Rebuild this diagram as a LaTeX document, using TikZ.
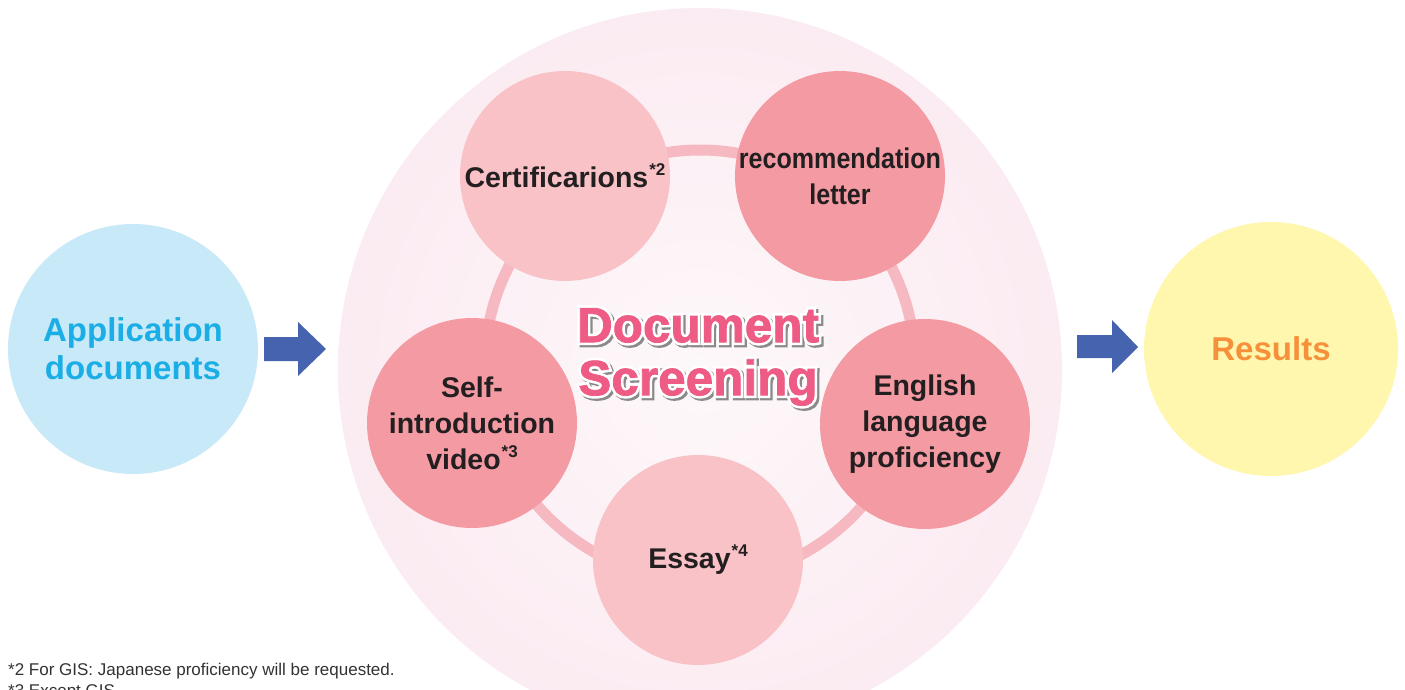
\documentclass[tikz,border=0pt]{standalone}
\usepackage{fontspec}
\usepackage{graphicx}
\setmainfont{Liberation Sans}
\newfontface\dsoutface{Liberation Sans Bold}[FakeBold=12]
\newfontface\dsface{Liberation Sans Bold}[FakeBold=1.5]
\definecolor{appfill}{HTML}{C8E9F8}
\definecolor{apptext}{HTML}{1BAEE6}
\definecolor{resfill}{HTML}{FFF7AE}
\definecolor{restext}{HTML}{F7903A}
\definecolor{arrowblue}{HTML}{4563AE}
\definecolor{dsin}{HTML}{FDF8FA}
\definecolor{dsmid}{HTML}{FCF0F5}
\definecolor{dsout}{HTML}{F9DDE8}
\definecolor{ringc}{HTML}{F6B8C1}
\definecolor{pinkL}{HTML}{F8C2C6}
\definecolor{pinkD}{HTML}{F39AA3}
\definecolor{labeltext}{HTML}{231F20}
\definecolor{dspink}{HTML}{EE5B84}
\definecolor{fxshadow}{HTML}{8A8A8A}
\definecolor{notetext}{HTML}{333333}
\pgfdeclareradialshading{bigglow}{\pgfpointorigin}{color(0bp)=(dsin); color(16bp)=(dsmid); color(50bp)=(dsout)}
\newcommand\fxline[1]{%
  \rlap{\hspace*{2.2pt}\raisebox{-2.2pt}{\textcolor{fxshadow}{\dsoutface #1}}}%
  \rlap{\textcolor{white}{\dsoutface #1}}%
  \textcolor{dspink}{\dsface #1}}
\newcommand\fnmark[1]{\kern1pt\raisebox{12pt}{\fontsize{17}{17}\selectfont *#1}}
\tikzset{
  bigc/.style={circle, minimum size=#1, inner sep=0pt, align=center, font=\bfseries\fontsize{33}{38}\selectfont},
  smallc/.style={circle, minimum size=210pt, inner sep=0pt, align=center, text=labeltext, font=\bfseries\fontsize{28.5}{36}\selectfont},
  blockarrow/.style={fill=arrowblue, draw=none},
  note/.style={anchor=base west, inner sep=0pt, text=notetext, font=\fontsize{17}{20}\selectfont}
}
\begin{document}
\begin{tikzpicture}[x=1pt,y=-1pt]
\useasboundingbox[fill=white] (0,0) rectangle (1405,690);
% big screening disc
\shade[shading=bigglow] (700,370) circle[radius=362pt];
% ring
\draw[ringc, line width=11pt] (700,365) circle[radius=215pt];
% side circles
\node[bigc=250pt, fill=appfill, text=apptext] (app) at (133,349) {Application\\documents};
\node[bigc=254pt, fill=resfill, text=restext] (res) at (1271,349) {Results};
% block arrows
\fill[blockarrow] (264,337) -- (298,337) -- (298,322) -- (326,349) -- (298,376) -- (298,361) -- (264,361) -- cycle;
\fill[blockarrow] (1077,335) -- (1112,335) -- (1112,320) -- (1138,347) -- (1112,373) -- (1112,358) -- (1077,358) -- cycle;
% five document circles
\node[smallc, fill=pinkL] (cert) at (565,176) {Certificarions\fnmark{2}};
\node[smallc, fill=pinkD] (rec) at (840,176) {\scalebox{0.88}[1]{recommendation}\\\scalebox{0.88}[1]{letter}};
\node[smallc, fill=pinkD] (eng) at (925,424) {English\\language\\proficiency};
\node[smallc, fill=pinkL] (essay) at (698,560) {Essay\fnmark{4}};
\node[smallc, fill=pinkD] (self) at (472,423) {Self-\\introduction\\video\fnmark{3}};
% title
\node[align=center, inner sep=0pt, font=\fontsize{49.5}{53}\selectfont] (ds) at (698,358) {\fxline{Document}\\\fxline{Screening}};
% footnotes
\node[note] (n2) at (8,675) {*2 For GIS: Japanese proficiency will be requested.};
\node[note] (n3) at (8,696) {*3 Except GIS};
\end{tikzpicture}
\end{document}
